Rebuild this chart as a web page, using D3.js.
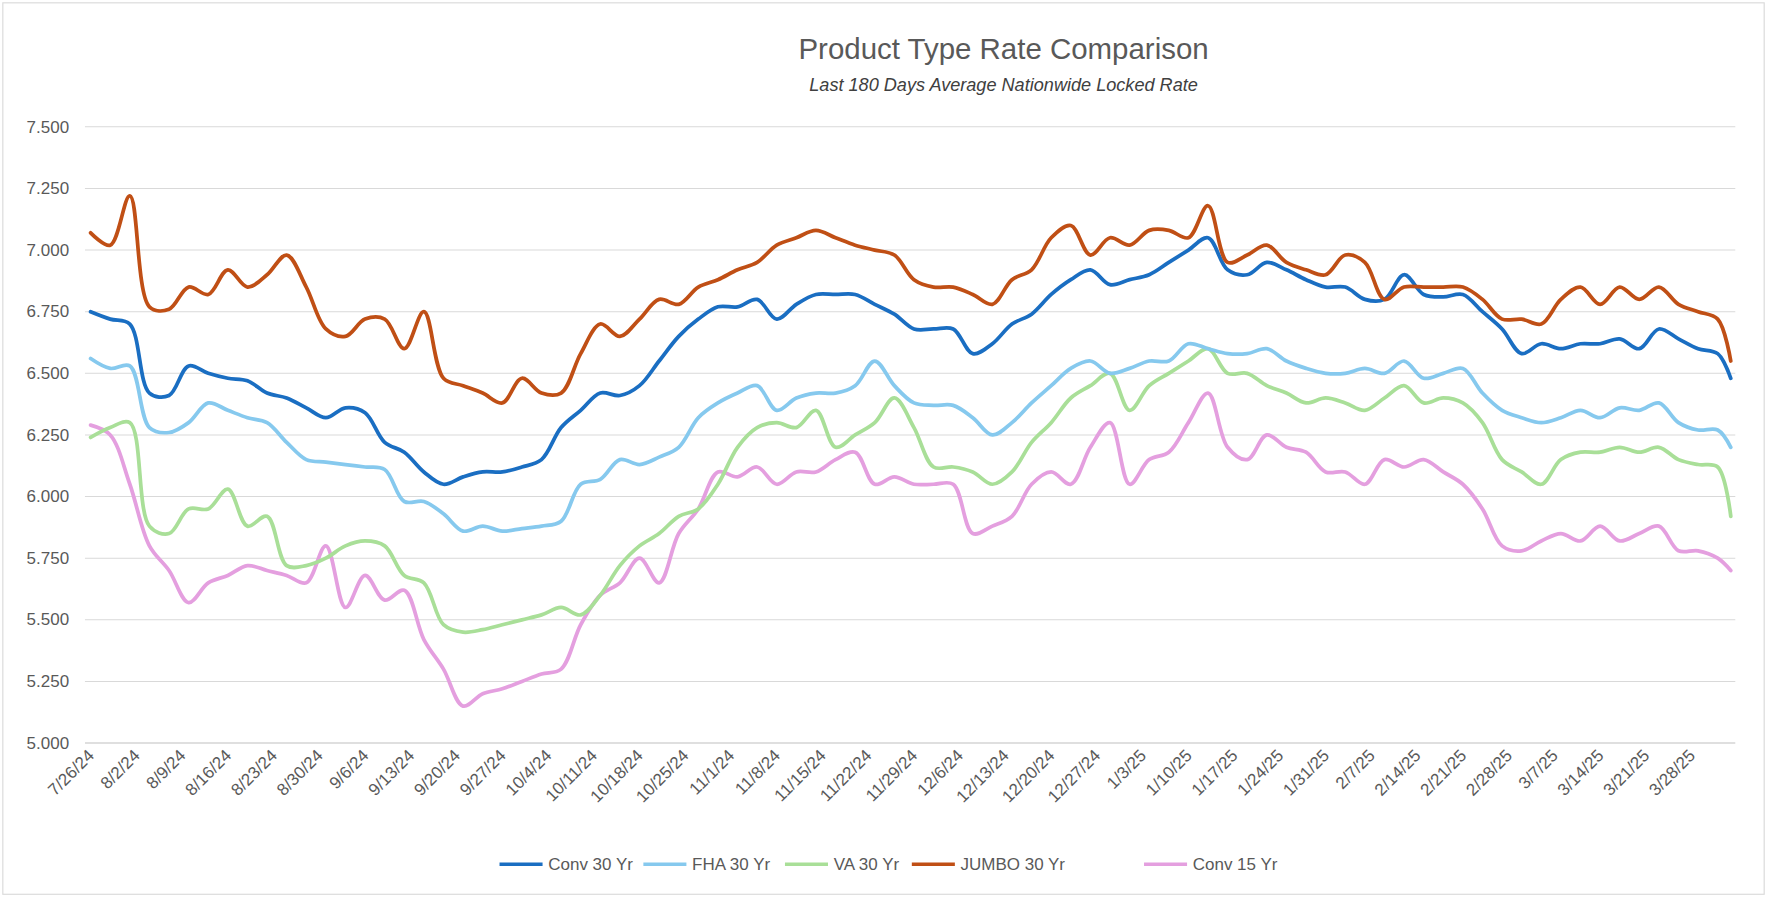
<!DOCTYPE html>
<html><head><meta charset="utf-8">
<script src="https://cdn.jsdelivr.net/npm/d3@7"></script>
<style>body{margin:0;background:#fff;font-family:"Liberation Sans",Arial,sans-serif}</style>
</head><body><svg id="chart" width="1776" height="899"></svg>
<script>
const dates = ["2024-07-26","2024-07-29","2024-08-01","2024-08-04","2024-08-07","2024-08-10","2024-08-13","2024-08-16","2024-08-19","2024-08-22","2024-08-25","2024-08-28","2024-08-31","2024-09-03","2024-09-06","2024-09-09","2024-09-12","2024-09-15","2024-09-18","2024-09-21","2024-09-24","2024-09-27","2024-09-30","2024-10-03","2024-10-06","2024-10-09","2024-10-12","2024-10-15","2024-10-18","2024-10-21","2024-10-24","2024-10-27","2024-10-30","2024-11-02","2024-11-05","2024-11-08","2024-11-11","2024-11-14","2024-11-17","2024-11-20","2024-11-23","2024-11-26","2024-11-29","2024-12-02","2024-12-05","2024-12-08","2024-12-11","2024-12-14","2024-12-17","2024-12-20","2024-12-23","2024-12-26","2024-12-29","2025-01-01","2025-01-04","2025-01-07","2025-01-10","2025-01-13","2025-01-16","2025-01-19","2025-01-22","2025-01-25","2025-01-28","2025-01-31","2025-02-03","2025-02-06","2025-02-09","2025-02-12","2025-02-15","2025-02-18","2025-02-21","2025-02-24","2025-02-27","2025-03-02","2025-03-05","2025-03-08","2025-03-11","2025-03-14","2025-03-17","2025-03-20","2025-03-23","2025-03-26","2025-03-29","2025-04-01","2025-04-03"];
const conv30 = [6.75,6.72,6.70,6.42,6.41,6.53,6.50,6.48,6.47,6.42,6.40,6.36,6.32,6.36,6.34,6.22,6.18,6.10,6.05,6.08,6.10,6.10,6.12,6.15,6.28,6.35,6.42,6.41,6.45,6.55,6.65,6.72,6.77,6.77,6.80,6.72,6.78,6.82,6.82,6.82,6.78,6.74,6.68,6.68,6.68,6.58,6.62,6.70,6.74,6.82,6.88,6.92,6.86,6.88,6.90,6.95,7.00,7.05,6.92,6.90,6.95,6.92,6.88,6.85,6.85,6.80,6.80,6.90,6.82,6.81,6.82,6.75,6.68,6.58,6.62,6.60,6.62,6.62,6.64,6.60,6.68,6.64,6.60,6.58,6.48];
const fha30 = [6.56,6.52,6.53,6.28,6.26,6.30,6.38,6.35,6.32,6.30,6.22,6.15,6.14,6.13,6.12,6.11,5.98,5.98,5.93,5.86,5.88,5.86,5.87,5.88,5.90,6.05,6.07,6.15,6.13,6.16,6.20,6.32,6.38,6.42,6.45,6.35,6.40,6.42,6.42,6.45,6.55,6.45,6.38,6.37,6.37,6.32,6.25,6.30,6.38,6.45,6.52,6.55,6.50,6.52,6.55,6.55,6.62,6.60,6.58,6.58,6.60,6.55,6.52,6.50,6.50,6.52,6.50,6.55,6.48,6.50,6.52,6.42,6.35,6.32,6.30,6.32,6.35,6.32,6.36,6.35,6.38,6.30,6.27,6.27,6.20];
const va30 = [6.24,6.28,6.30,5.88,5.85,5.95,5.95,6.03,5.88,5.92,5.72,5.72,5.75,5.80,5.82,5.80,5.68,5.65,5.48,5.45,5.46,5.48,5.50,5.52,5.55,5.52,5.60,5.72,5.80,5.85,5.92,5.95,6.05,6.20,6.28,6.30,6.28,6.35,6.20,6.25,6.30,6.40,6.28,6.12,6.12,6.10,6.05,6.10,6.22,6.30,6.40,6.45,6.50,6.35,6.45,6.50,6.55,6.60,6.50,6.50,6.45,6.42,6.38,6.40,6.38,6.35,6.40,6.45,6.38,6.40,6.38,6.30,6.15,6.10,6.05,6.15,6.18,6.18,6.20,6.18,6.20,6.15,6.13,6.12,5.92];
const jumbo30 = [7.07,7.02,7.22,6.77,6.76,6.85,6.82,6.92,6.85,6.90,6.98,6.85,6.68,6.65,6.72,6.72,6.60,6.75,6.48,6.45,6.42,6.38,6.48,6.42,6.42,6.58,6.70,6.65,6.72,6.80,6.78,6.85,6.88,6.92,6.95,7.02,7.05,7.08,7.05,7.02,7.00,6.98,6.88,6.85,6.85,6.82,6.78,6.88,6.92,7.05,7.10,6.98,7.05,7.02,7.08,7.08,7.05,7.18,6.95,6.98,7.02,6.95,6.92,6.90,6.98,6.95,6.80,6.85,6.85,6.85,6.85,6.80,6.72,6.72,6.70,6.80,6.85,6.78,6.85,6.80,6.85,6.78,6.75,6.72,6.55];
const conv15 = [6.29,6.25,6.05,5.80,5.70,5.57,5.65,5.68,5.72,5.70,5.68,5.65,5.80,5.55,5.68,5.58,5.62,5.42,5.30,5.15,5.20,5.22,5.25,5.28,5.30,5.48,5.60,5.65,5.75,5.65,5.85,5.95,6.10,6.08,6.12,6.05,6.10,6.10,6.15,6.18,6.05,6.08,6.05,6.05,6.05,5.85,5.88,5.92,6.05,6.10,6.05,6.20,6.30,6.05,6.15,6.18,6.30,6.42,6.20,6.15,6.25,6.20,6.18,6.10,6.10,6.05,6.15,6.12,6.15,6.10,6.05,5.95,5.80,5.78,5.82,5.85,5.82,5.88,5.82,5.85,5.88,5.78,5.78,5.75,5.70];
const tickLabels = ["7/26/24","8/2/24","8/9/24","8/16/24","8/23/24","8/30/24","9/6/24","9/13/24","9/20/24","9/27/24","10/4/24","10/11/24","10/18/24","10/25/24","11/1/24","11/8/24","11/15/24","11/22/24","11/29/24","12/6/24","12/13/24","12/20/24","12/27/24","1/3/25","1/10/25","1/17/25","1/24/25","1/31/25","2/7/25","2/14/25","2/21/25","2/28/25","3/7/25","3/14/25","3/21/25","3/28/25"];
const yTicks = [5.0,5.25,5.5,5.75,6.0,6.25,6.5,6.75,7.0,7.25,7.5];

const seriesList = [
  {name:"Conv 30 Yr", values:conv30, color:"#1a6ec2"},
  {name:"FHA 30 Yr", values:fha30, color:"#86c9ee"},
  {name:"VA 30 Yr", values:va30, color:"#a9df98"},
  {name:"JUMBO 30 Yr", values:jumbo30, color:"#c04f15"},
  {name:"Conv 15 Yr", values:conv15, color:"#e49fdf"}
];
const drawOrder = [4,2,1,0,3];

const root = d3.select("#chart");
const svg = root.append("g").attr("transform","scale(1.1327)");
const parse = d3.timeParse("%Y-%m-%d");
const parseTick = d3.timeParse("%-m/%-d/%y");
const xDates = dates.map(parse);

svg.append("rect").attr("x",0).attr("y",0).attr("width",1568).attr("height",794).attr("fill","#fff");
svg.append("rect").attr("x",2.5).attr("y",2.5).attr("width",1555).attr("height",787)
  .attr("fill","#fff").attr("stroke","#d9d9d9");

const x = d3.scaleTime().domain([parse("2024-07-26"), parse("2025-04-03")]).range([80,1528]);
const y = d3.scaleLinear().domain([5,7.5]).range([656,112]);

const grid = svg.append("g");
yTicks.forEach(t => {
  grid.append("line").attr("x1",75).attr("x2",1532).attr("y1",y(t)).attr("y2",y(t))
    .attr("stroke", t===5 ? "#bfbfbf" : "#d9d9d9").attr("stroke-width",0.9);
  grid.append("text").attr("x",61).attr("y",y(t)+5).attr("text-anchor","end")
    .attr("font-size",15).attr("fill","#595959").text(d3.format(".3f")(t));
});

tickLabels.forEach(lbl => {
  const tx = x(parseTick(lbl));
  svg.append("text").attr("transform",`translate(${tx+4},${668}) rotate(-45)`)
    .attr("text-anchor","end").attr("font-size",15).attr("fill","#595959").text(lbl);
});

const line = d3.line().x((d,i) => x(xDates[i])).y(d => y(d)).curve(d3.curveCatmullRom.alpha(0.5));
drawOrder.forEach(k => {
  const s = seriesList[k];
  svg.append("path").datum(s.values).attr("d",line).attr("fill","none")
    .attr("stroke",s.color).attr("stroke-width",3.3).attr("stroke-linejoin","round").attr("stroke-linecap","round");
});

svg.append("text").attr("x",886).attr("y",52).attr("text-anchor","middle").attr("font-size",26).attr("fill","#595959").text("Product Type Rate Comparison");
svg.append("text").attr("x",886).attr("y",80).attr("text-anchor","middle").attr("font-size",16).attr("font-style","italic").attr("fill","#404040").text("Last 180 Days Average Nationwide Locked Rate");

const legX = [441,568,693,805,1010];
seriesList.forEach((s,i) => {
  const g = svg.append("g").attr("transform",`translate(${legX[i]},763)`);
  g.append("line").attr("x1",0).attr("x2",38).attr("stroke",s.color).attr("stroke-width",3.3);
  g.append("text").attr("x",43).attr("y",5).attr("font-size",15).attr("fill","#595959").text(s.name);
});
</script></body></html>
